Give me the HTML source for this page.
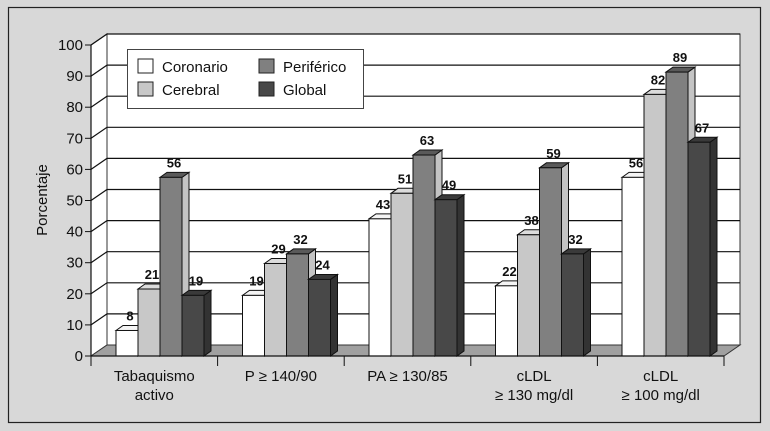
<!DOCTYPE html>
<html><head><meta charset="utf-8"><style>
html,body{margin:0;padding:0;background:#d8d8d8;}
svg{display:block;font-family:"Liberation Sans",sans-serif;}
</style></head><body>
<svg width="770" height="431" viewBox="0 0 770 431">
<rect x="0" y="0" width="770" height="431" fill="#d8d8d8"/>
<rect x="8.5" y="7.5" width="752" height="415" fill="none" stroke="#222" stroke-width="1.2"/>
<g id="grid"></g>
<g id="bars"></g>
<g id="axes"></g>
<g>
<rect x="127.5" y="49.5" width="236" height="59" fill="#fff" stroke="#444"/>
<rect x="138" y="59" width="15" height="14" fill="#fff" stroke="#222"/>
<text x="162" y="72" font-size="15" fill="#111">Coronario</text>
<rect x="138" y="82" width="15" height="14" fill="#c8c8c8" stroke="#222"/>
<text x="162" y="95" font-size="15" fill="#111">Cerebral</text>
<rect x="259" y="59" width="15" height="14" fill="#808080" stroke="#222"/>
<text x="283" y="72" font-size="15" fill="#111">Periférico</text>
<rect x="259" y="82" width="15" height="14" fill="#484848" stroke="#222"/>
<text x="283" y="95" font-size="15" fill="#111">Global</text>
</g>
<text transform="translate(47,200) rotate(-90)" text-anchor="middle" font-size="15" fill="#111">Porcentaje</text>
</svg>
<script>
const categories = [["Tabaquismo","activo"],["P ≥ 140/90"],["PA ≥ 130/85"],["cLDL","≥ 130 mg/dl"],["cLDL","≥ 100 mg/dl"]];
const coronario = [8,19,43,22,56];
const cerebral = [21,29,51,38,82];
const periferico = [56,32,63,59,89];
const global = [19,24,49,32,67];
const yTicks = [0,10,20,30,40,50,60,70,80,90,100];

const NS="http://www.w3.org/2000/svg";
const x0=91, x1=724, y0=356, yTop=45, DX=16, DY=-11;
const y = v => y0 - (v/100)*(y0-yTop);
const yBar = v => y0 - (v/100)*319;
const groupX = i => 116 + i*126.5;
const bw = 22, bdx=7, bdy=-5;
function mk(tag, attrs, parent){const e=document.createElementNS(NS,tag);for(const k in attrs)e.setAttribute(k,attrs[k]);parent.appendChild(e);return e;}
const grid=document.getElementById('grid'), bars=document.getElementById('bars'), axes=document.getElementById('axes');

let w=mk('polygon',{points:`${x0+DX},${yTop+DY} ${x1+DX},${yTop+DY} ${x1+DX},${y0+DY} ${x0+DX},${y0+DY}`,fill:'#fff',stroke:'#333'},grid);


let lw=mk('polygon',{points:`${x0},${yTop} ${x0+DX},${yTop+DY} ${x0+DX},${y0+DY} ${x0},${y0}`,fill:'#fff',stroke:'#333'},grid);


yTicks.forEach(t=>{
  const yy=y(t);
  if(t>0){
    const g=mk('polyline',{points:`${x0},${yy} ${x0+DX},${yy+DY} ${x1+DX},${yy+DY}`,fill:'none',stroke:'#111','stroke-width':1.2},grid);
    
    
  }
  const tk=mk('line',{x1:x0-6,y1:yy,x2:x0,y2:yy,stroke:'#111'},axes);
  
  
  const lb=mk('text',{x:x0-8,y:yy+5,'text-anchor':'end','font-size':15,fill:'#111'},axes);
  lb.textContent=t;
  
  
});
const fl=mk('polygon',{points:`${x0},${y0} ${x0+DX},${y0+DY} ${x1+DX},${y0+DY} ${x1},${y0}`,fill:'#a0a0a0',stroke:'#333'},grid);



const series=[
 {d:coronario,n:'coronario',f:'#ffffff',s:'#e8e8e8',t:'#f4f4f4'},
 {d:cerebral,n:'cerebral',f:'#c8c8c8',s:'#b0b0b0',t:'#dcdcdc'},
 {d:periferico,n:'periferico',f:'#808080',s:'#c4c4c4',t:'#5a5a5a'},
 {d:global,n:'global',f:'#484848',s:'#333333',t:'#3a3a3a'}];
categories.forEach((c,i)=>{
  series.forEach((s,j)=>{
    const v=s.d[i], bx=groupX(i)+j*bw, by=yBar(v);
    const g=mk('g',{},bars);
    
    
    mk('polygon',{points:`${bx+bw},${by} ${bx+bw+bdx},${by+bdy} ${bx+bw+bdx},${y0+bdy} ${bx+bw},${y0}`,fill:s.s,stroke:'#111'},g);
    mk('polygon',{points:`${bx},${by} ${bx+bdx},${by+bdy} ${bx+bw+bdx},${by+bdy} ${bx+bw},${by}`,fill:s.t,stroke:'#111'},g);
    mk('rect',{x:bx,y:by,width:bw,height:y0-by,fill:s.f,stroke:'#111'},g);
    const l=mk('text',{x:bx+bw/2+3,y:by-10,'text-anchor':'middle','font-size':13,'font-weight':'bold',fill:'#111'},bars);
    l.textContent=v;
    
    
  });
});
const xa=mk('line',{x1:x0,y1:y0,x2:x1,y2:y0,stroke:'#111','stroke-width':1.2},axes);


const ya=mk('line',{x1:x0,y1:yTop,x2:x0,y2:y0,stroke:'#111','stroke-width':1.2},axes);


const cw=(x1-x0)/categories.length;
for(let i=0;i<=categories.length;i++){
  const tx=x0+i*cw;
  const t=mk('line',{x1:tx,y1:y0,x2:tx,y2:y0+10,stroke:'#111'},axes);
  
  
}
categories.forEach((c,i)=>{
  const cx=x0+(i+0.5)*cw;
  c.forEach((line,k)=>{
    const t=mk('text',{x:cx,y:381+k*19,'text-anchor':'middle','font-size':15,fill:'#111'},axes);
    t.textContent=line;
    
    
  });
});
</script>
</body></html>
